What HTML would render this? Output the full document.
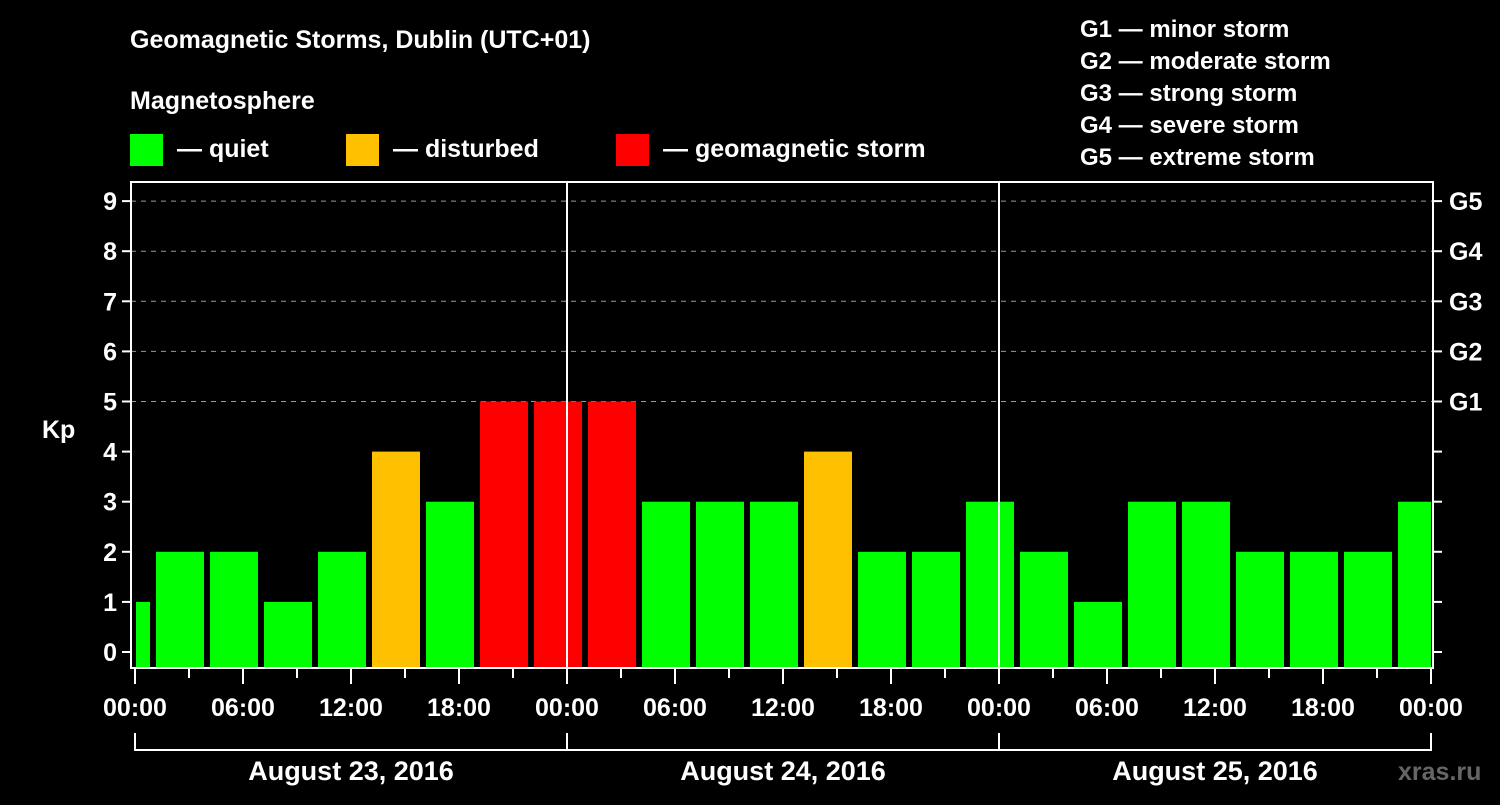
<!DOCTYPE html>
<html><head><meta charset="utf-8"><style>
body{margin:0;background:#000;width:1500px;height:800px;overflow:hidden}
svg text{font-family:"Liberation Sans",sans-serif;font-weight:bold;fill:#fff}
</style></head><body>
<svg id="c" width="1500" height="800" xmlns="http://www.w3.org/2000/svg">
<rect width="1500" height="800" fill="#000"/>
<text x="130" y="48" font-size="25">Geomagnetic Storms, Dublin (UTC+01)</text>
<text x="130" y="109" font-size="25">Magnetosphere</text>
<g><rect x="130" y="134" width="33" height="32" fill="#00ff00"/><text x="177" y="157" font-size="25">— quiet</text></g>
<g><rect x="346" y="134" width="33" height="32" fill="#ffc000"/><text x="393" y="157" font-size="25">— disturbed</text></g>
<g><rect x="616" y="134" width="33" height="32" fill="#ff0000"/><text x="663" y="157" font-size="25">— geomagnetic storm</text></g>
<g font-size="24">
<text x="1080" y="37">G1 — minor storm</text>
<text x="1080" y="69">G2 — moderate storm</text>
<text x="1080" y="101">G3 — strong storm</text>
<text x="1080" y="133">G4 — severe storm</text>
<text x="1080" y="165">G5 — extreme storm</text>
</g>
<text x="42" y="438" font-size="25">Kp</text>
<text x="1398" y="780" font-size="25" fill="#666" style="fill:#666">xras.ru</text>
<g id="plot"></g>
</svg>
<script>
const kpValues=[1,2,2,1,2,4,3,5,5,5,3,3,3,4,2,2,3,2,1,3,3,2,2,2,3];
const yTicks=[0,1,2,3,4,5,6,7,8,9];
const gLabels=["G1","G2","G3","G4","G5"];
const xTickLabels=["00:00","06:00","12:00","18:00","00:00","06:00","12:00","18:00","00:00","06:00","12:00","18:00","00:00"];
const dateLabels=["August 23, 2016","August 24, 2016","August 25, 2016"];
const NS="http://www.w3.org/2000/svg";
const L=131,R=1433,T=182,B=668,X0=135,PXH=18;
const xS=h=>X0+h*PXH;
const yS=v=>652-v*50.1;
const g=document.getElementById('plot');
function mk(t,a,p){const e=document.createElementNS(NS,t);for(const k in a)e.setAttribute(k,a[k]);(p||g).appendChild(e);return e;}
yTicks.forEach(v=>{
 if(v>=5){const l=mk('line',{x1:L,x2:R,y1:yS(v),y2:yS(v),stroke:'#999','stroke-width':1,'stroke-dasharray':'5,5'});
 
 }
});
kpValues.forEach((v,i)=>{
 let s=xS(i*3-2)+3,e=xS(i*3+1)-3;
 s=Math.max(s,X0+1);e=Math.min(e,xS(72));
 const col=v>=5?'#ff0000':(v>=4?'#ffc000':'#00ff00');
 const r=mk('rect',{x:s,y:yS(v),width:e-s,height:B-yS(v),fill:col});
 
 
});
[24,48].forEach(h=>{mk('line',{x1:xS(h),x2:xS(h),y1:T,y2:B,stroke:'#fff','stroke-width':2});});
const fr=mk('rect',{x:L,y:T,width:R-L,height:B-T,fill:'none',stroke:'#fff','stroke-width':2});


yTicks.forEach(v=>{
 mk('line',{x1:L-9,x2:L,y1:yS(v),y2:yS(v),stroke:'#fff','stroke-width':2});
 mk('line',{x1:R,x2:R+9,y1:yS(v),y2:yS(v),stroke:'#fff','stroke-width':2});
 const t=mk('text',{x:L-14,y:yS(v)+9,'text-anchor':'end','font-size':25});t.textContent=v;
 
 
 if(v>=5){const gt=mk('text',{x:1449,y:yS(v)+9,'font-size':25});gt.textContent=gLabels[v-5];
 
 }
});
for(let h=0;h<=72;h+=3){mk('line',{x1:xS(h),x2:xS(h),y1:B,y2:h%6==0?B+16:B+10,stroke:'#fff','stroke-width':2});}
xTickLabels.forEach((s,i)=>{const t=mk('text',{x:xS(i*6),y:716,'text-anchor':'middle','font-size':25});t.textContent=s;
 
 });
mk('path',{d:`M${xS(0)} 733V750H${xS(72)}V733M${xS(24)} 733V750M${xS(48)} 733V750`,stroke:'#fff','stroke-width':2,fill:'none'});
dateLabels.forEach((s,i)=>{const t=mk('text',{x:xS(i*24+12),y:780,'text-anchor':'middle','font-size':27});t.textContent=s;
 
 });
</script>
</body></html>
